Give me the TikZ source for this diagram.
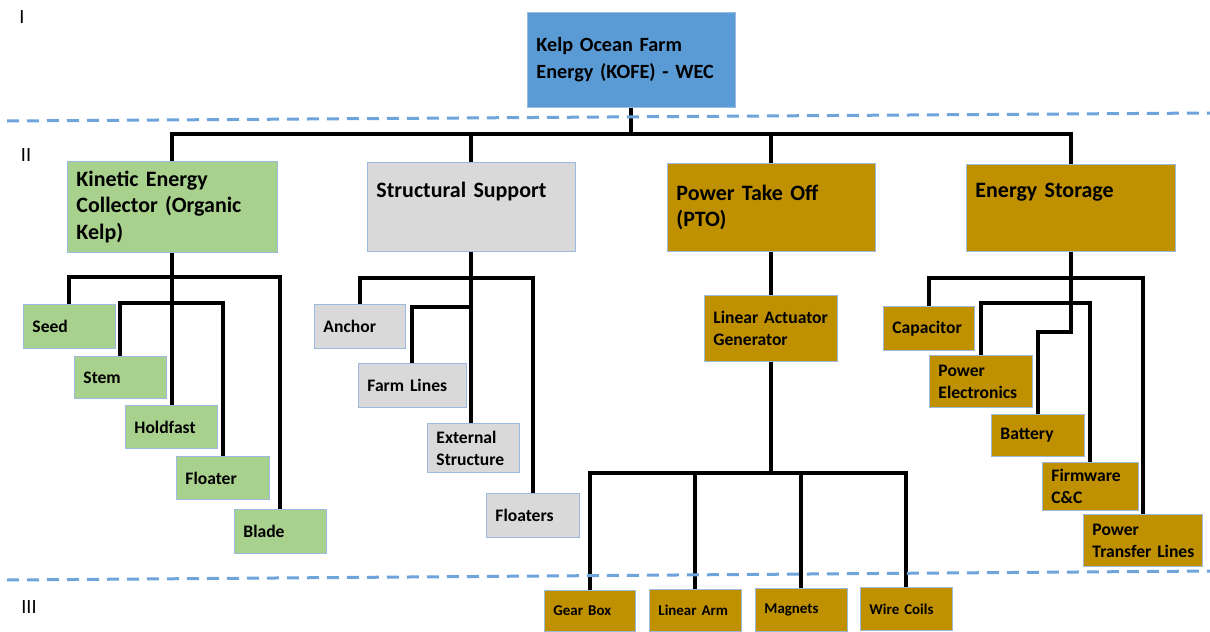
\documentclass[tikz,border=0pt]{standalone}
\usepackage{fontspec}
\setmainfont{Carlito}
\newlength\px
\setlength\px{0.02cm}
\definecolor{kofeblue}{HTML}{5B9BD5}
\definecolor{kelpgreen}{HTML}{A9D18E}
\definecolor{supportgray}{HTML}{D9D9D9}
\definecolor{ptogold}{HTML}{BF9000}
\definecolor{boxedge}{HTML}{9DB9E0}
\definecolor{tierblue}{HTML}{6FA3DC}
\tikzset{
  box/.style={draw=boxedge, line width=0.5pt, anchor=north west, inner xsep=9\px, inner ysep=0pt, align=left},
  sz/.style 2 args={text width=#1\px, minimum height=#2\px},
  lvtop/.style={box, font=\fontsize{11.5}{15.3}\selectfont\bfseries},
  lvone/.style={box, font=\fontsize{12.5}{15.3}\selectfont\bfseries},
  lvtwo/.style={box, font=\fontsize{10}{12.5}\selectfont\bfseries},
  lvthree/.style={box, font=\fontsize{8.5}{10}\selectfont\bfseries},
  tree/.style={line width=4\px},
  levelline/.style={tierblue, line width=3\px, dash pattern=on 12\px off 8\px},
  tier/.style={font=\fontsize{11.5}{13}\selectfont}
}
\begin{document}
\begin{tikzpicture}[x=0.02cm, y=-0.02cm]
\useasboundingbox (0,0) rectangle (1210,632);

\node[tier] (tierI) at (22,17) {I};
\node[tier] (tierII) at (26,155) {II};
\node[tier] (tierIII) at (29,607) {III};

\node[lvtop, fill=kofeblue, sz={190}{95}] (kofe) at (527,12) {Kelp~Ocean~Farm\\Energy~(KOFE)~-~WEC};

\node[lvone, fill=kelpgreen, sz={192}{91}] (kec) at (67,161) {Kinetic Energy\\Collector~(Organic\\Kelp)};
\node[lvone, fill=supportgray, sz={190}{89}] (ss) at (367,162) {Structural~Support\\\strut};
\node[lvone, fill=ptogold, sz={190}{88}] (pto) at (667,163) {Power Take Off\\(PTO)};
\node[lvone, fill=ptogold, sz={191}{87}] (es) at (966,164) {Energy Storage\\\strut};

\node[lvtwo, fill=kelpgreen, sz={74}{44}] (seed) at (23,304) {Seed};
\node[lvtwo, fill=kelpgreen, sz={74}{42}] (stem) at (74,356) {Stem};
\node[lvtwo, fill=kelpgreen, sz={74}{43}] (holdfast) at (125,405) {Holdfast};
\node[lvtwo, fill=kelpgreen, sz={75}{43}] (floater) at (176,456) {Floater};
\node[lvtwo, fill=kelpgreen, sz={74}{44}] (blade) at (234,509) {Blade};

\node[lvtwo, fill=supportgray, sz={73}{44}] (anchor) at (314,304) {Anchor};
\node[lvtwo, fill=supportgray, sz={90}{44}] (farmlines) at (358,363) {Farm~Lines};
\node[lvtwo, fill=supportgray, sz={74}{49}] (extstruct) at (427,423) {External\\Structure};
\node[lvtwo, fill=supportgray, sz={75}{44}] (floaters) at (486,493) {Floaters};

\node[lvtwo, fill=ptogold, sz={115}{66}] (lag) at (704,295) {Linear~Actuator\\Generator};
\node[lvthree, fill=ptogold, sz={73}{41}] (gearbox) at (544,590) {Gear~Box};
\node[lvthree, fill=ptogold, sz={74}{42}] (lineararm) at (649,589) {Linear~Arm};
\node[lvthree, fill=ptogold, sz={74}{43}] (magnets) at (755,588) {Magnets};
\node[lvthree, fill=ptogold, sz={74}{43}] (wirecoils) at (860,587) {Wire~Coils};

\node[lvtwo, fill=ptogold, sz={73}{44}] (capacitor) at (883,306) {Capacitor};
\node[lvtwo, fill=ptogold, sz={85}{52}] (powerelec) at (929,355) {Power\\Electronics};
\node[lvtwo, fill=ptogold, sz={75}{42}] (battery) at (991,414) {Battery};
\node[lvtwo, fill=ptogold, sz={78}{48}] (firmware) at (1042,462) {Firmware\\C\&C};
\node[lvtwo, fill=ptogold, sz={101}{52}] (ptl) at (1083,514) {Power\\Transfer~Lines};

\coordinate (busA) at (0,134);
\draw[tree] (kofe.south) -- (kofe.south |- busA);
\draw[tree] (kec.north) |- (es.north |- busA) -- (es.north);
\draw[tree] (ss.north) -- (ss.north |- busA);
\draw[tree] (pto.north) -- (pto.north |- busA);

\coordinate (kecA) at (0,277);
\coordinate (kecB) at (0,303);
\draw[tree] (kec.south) -- (kec.south |- holdfast.north);
\draw[tree] (seed.north) |- (blade.north |- kecA) -- (blade.north);
\draw[tree] (stem.north) |- (floater.north |- kecB) -- (floater.north);

\coordinate (ssA) at (0,278);
\coordinate (ssB) at (0,307);
\draw[tree] (ss.south) -- (ss.south |- extstruct.north);
\draw[tree] (anchor.north) |- (floaters.north |- ssA) -- (floaters.north);
\draw[tree] (farmlines.north) |- (ss.south |- ssB);

\coordinate (ptoA) at (0,473);
\draw[tree] (pto.south) -- (pto.south |- lag.north);
\draw[tree] (lag.south) -- (lag.south |- ptoA);
\draw[tree] (gearbox.north) |- (wirecoils.north |- ptoA) -- (wirecoils.north);
\draw[tree] (lineararm.north) -- (lineararm.north |- ptoA);
\draw[tree] (magnets.north) -- (magnets.north |- ptoA);

\coordinate (esA) at (0,278);
\coordinate (esB) at (0,303);
\coordinate (esC) at (0,332);
\draw[tree] (es.south) |- (battery.north |- esC) -- (battery.north);
\draw[tree] (capacitor.north) |- (ptl.north |- esA) -- (ptl.north);
\draw[tree] (powerelec.north) |- (firmware.north |- esB) -- (firmware.north);

\draw[levelline] (7,121) -- (1210,113);
\draw[levelline] (7,580) -- (1210,571);
\end{tikzpicture}
\end{document}
